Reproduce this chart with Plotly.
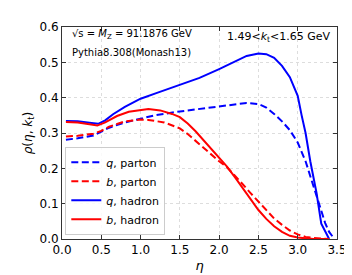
import plotly.graph_objects as go

# q, hadron (blue solid)
q_had_x = [0.05, 0.2, 0.35, 0.46, 0.55, 0.65, 0.8, 1.0, 1.2, 1.5, 1.75, 2.0, 2.2, 2.35, 2.5, 2.6, 2.7, 2.8, 2.9, 3.0, 3.05, 3.1, 3.16, 3.24, 3.3, 3.35, 3.4]
q_had_y = [0.334, 0.333, 0.329, 0.326, 0.336, 0.353, 0.374, 0.397, 0.413, 0.436, 0.456, 0.481, 0.503, 0.518, 0.525, 0.523, 0.513, 0.49, 0.458, 0.405, 0.35, 0.30, 0.22, 0.13, 0.043, 0.02, 0.0]

# q, parton (blue dashed)
q_par_x = [0.05, 0.2, 0.4, 0.5, 0.6, 0.8, 1.0, 1.2, 1.5, 1.75, 2.0, 2.2, 2.35, 2.5, 2.6, 2.7, 2.8, 2.9, 3.0, 3.1, 3.2, 3.3, 3.35, 3.4, 3.45]
q_par_y = [0.281, 0.285, 0.293, 0.303, 0.315, 0.330, 0.341, 0.351, 0.361, 0.368, 0.375, 0.382, 0.385, 0.382, 0.372, 0.354, 0.333, 0.308, 0.273, 0.22, 0.15, 0.08, 0.045, 0.02, 0.005]

# b, hadron (red solid)
b_had_x = [0.05, 0.2, 0.35, 0.45, 0.55, 0.7, 0.85, 1.0, 1.1, 1.25, 1.4, 1.5, 1.6, 1.7, 1.8, 1.9, 2.0, 2.1, 2.2, 2.3, 2.4, 2.5, 2.6, 2.7, 2.8, 2.9, 3.0, 3.1, 3.2, 3.4]
b_had_y = [0.331, 0.330, 0.325, 0.321, 0.330, 0.348, 0.360, 0.366, 0.368, 0.364, 0.354, 0.345, 0.327, 0.305, 0.280, 0.256, 0.232, 0.205, 0.175, 0.145, 0.112, 0.082, 0.057, 0.036, 0.020, 0.009, 0.004, 0.001, 0.0, 0.0]

# b, parton (red dashed)
b_par_x = [0.05, 0.2, 0.4, 0.5, 0.6, 0.8, 1.0, 1.1, 1.3, 1.5, 1.6, 1.7, 1.8, 1.9, 2.0, 2.1, 2.2, 2.3, 2.4, 2.5, 2.6, 2.7, 2.8, 2.9, 3.0, 3.1, 3.2, 3.3, 3.4]
b_par_y = [0.290, 0.292, 0.298, 0.306, 0.318, 0.333, 0.338, 0.337, 0.330, 0.313, 0.297, 0.278, 0.258, 0.238, 0.220, 0.203, 0.180, 0.155, 0.130, 0.105, 0.082, 0.058, 0.040, 0.024, 0.013, 0.006, 0.003, 0.001, 0.0]

x_ticks = [0.0, 0.5, 1.0, 1.5, 2.0, 2.5, 3.0, 3.5]
y_ticks = [0.0, 0.1, 0.2, 0.3, 0.4, 0.5, 0.6]

BLUE = "#0000ff"
RED = "#ff0000"
FONT = "DejaVu Sans"

fig = go.Figure()
fig.add_trace(go.Scatter(x=q_par_x, y=q_par_y, mode="lines", name="<i>q</i>, parton",
                         line=dict(color=BLUE, width=2, dash="7px,3.5px")))
fig.add_trace(go.Scatter(x=b_par_x, y=b_par_y, mode="lines", name="<i>b</i>, parton",
                         line=dict(color=RED, width=2, dash="7px,3.5px")))
fig.add_trace(go.Scatter(x=q_had_x, y=q_had_y, mode="lines", name="<i>q</i>, hadron",
                         line=dict(color=BLUE, width=2)))
fig.add_trace(go.Scatter(x=b_had_x, y=b_had_y, mode="lines", name="<i>b</i>, hadron",
                         line=dict(color=RED, width=2)))

axis_common = dict(
    showline=True, linecolor="#333333", linewidth=1, mirror="allticks",
    ticks="inside", ticklen=4, tickcolor="#333333", tickwidth=1,
    showgrid=True, gridcolor="#dddddd", gridwidth=0.8, griddash="dot",
    zeroline=False, tickfont=dict(family=FONT, size=12, color="black"),
)

fig.update_xaxes(range=[0, 3.5], tickvals=x_ticks, ticktext=[f"{v:.1f}" for v in x_ticks],
                 title=dict(text="<i>η</i>", font=dict(family=FONT, size=13, color="black"), standoff=4),
                 **axis_common)
fig.update_yaxes(range=[0, 0.6], tickvals=y_ticks, ticktext=[f"{v:.1f}" for v in y_ticks],
                 title=dict(text="<i>ρ</i>(<i>η</i>, <i>k</i><sub>t</sub>)", font=dict(family=FONT, size=12, color="black"), standoff=4),
                 **axis_common)

fig.add_annotation(x=0.029, y=0.964, xref="paper", yref="paper", xanchor="left", yanchor="middle",
                   text="√s = <i>M</i><sub>Z</sub> = 91.1876 GeV",
                   showarrow=False, font=dict(family=FONT, size=10, color="black"))
fig.add_annotation(x=0.029, y=0.878, xref="paper", yref="paper", xanchor="left", yanchor="middle",
                   text="Pythia8.308(Monash13)", showarrow=False,
                   font=dict(family=FONT, size=10, color="black"))
fig.add_annotation(x=0.985, y=0.955, xref="paper", yref="paper", xanchor="right", yanchor="middle",
                   text="1.49&lt;<i>k</i><sub>t</sub>&lt;1.65 GeV", showarrow=False,
                   font=dict(family=FONT, size=11, color="black"))

fig.update_layout(
    width=352, height=275,
    margin=dict(l=54, r=23, t=12, b=41),
    plot_bgcolor="white", paper_bgcolor="white",
    font=dict(family=FONT, size=11, color="black"),
    legend=dict(x=0.012, y=0.02, xanchor="left", yanchor="bottom",
                bgcolor="rgba(255,255,255,0.85)", bordercolor="#cccccc", borderwidth=1,
                font=dict(family=FONT, size=11, color="black"),
                tracegroupgap=0, itemwidth=30),
    showlegend=True,
)

fig.write_html("out.html")
